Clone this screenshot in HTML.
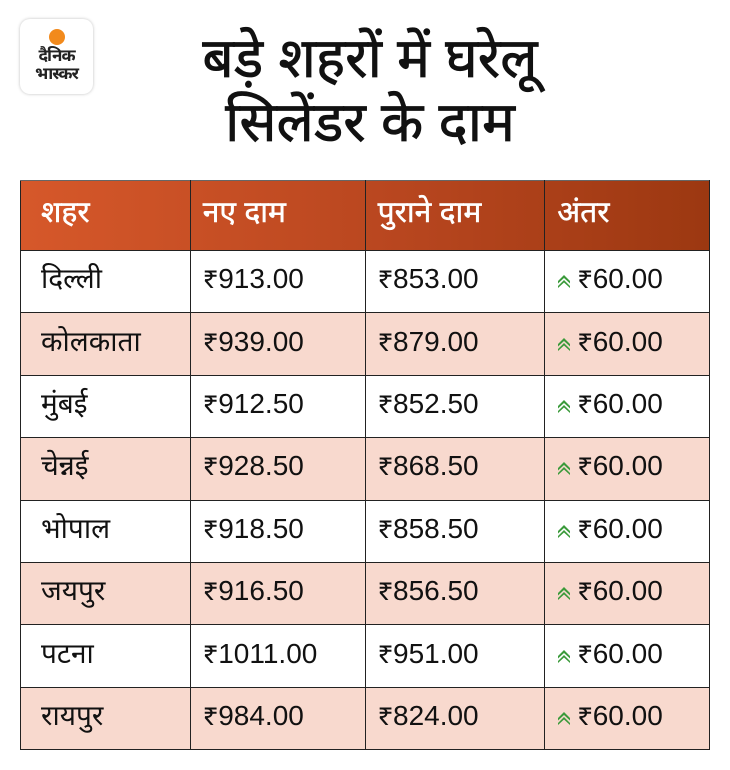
<!DOCTYPE html>
<html><head><meta charset="utf-8"><style>
body{margin:0;width:730px;height:770px;background:#fff;font-family:"Liberation Sans","Noto Sans Devanagari","Lohit Devanagari","FreeSans",sans-serif;position:relative;overflow:hidden}
.logo{position:absolute;left:20px;top:19px;width:73px;height:75px;border-radius:10px;background:#fff;box-shadow:0 0 3px rgba(0,0,0,.25);text-align:center}
.logo .dot{width:16px;height:16px;border-radius:50%;background:#f28a1c;margin:10px auto 2px}
.logo div.t{font-size:17px;font-weight:bold;line-height:18px;color:#222;letter-spacing:-1px}
h1{position:absolute;left:140px;width:460px;top:26px;margin:0;text-align:center;font-size:55px;font-weight:normal;line-height:64px;color:#111;-webkit-text-stroke:0.8px #111}
table{position:absolute;left:20px;top:180px;border-collapse:collapse;width:690px}
td,th{height:62.4px;padding:0 0 0 12px;text-align:left;font-size:28px;border:1px solid #222;color:#111;box-sizing:border-box;font-weight:normal}
td:first-child,th:first-child{padding-left:20px}
th{height:70px;color:#fff;border-top:1px solid #666;border-bottom:none;font-size:30px;-webkit-text-stroke:0.5px #fff}
thead tr{background:linear-gradient(90deg,#d6582a,#b8461f 55%,#9c3811)}
tr.p td{background:#f8d9ce}
.a{display:inline-block;width:14px;height:14px;margin-right:6px;vertical-align:0px}
</style></head><body>
<div class="logo"><div class="dot"></div><div class="t">दैनिक</div><div class="t">भास्कर</div></div>
<h1>बड़े शहरों में घरेलू<br>सिलेंडर के दाम</h1>
<svg width="0" height="0" style="position:absolute"><defs><g id="ar"><polygon points="1,7 7,1 13,7 13,9.5 7,4 1,9.5" fill="#3a9a3a"/><polygon points="1,12 7,6 13,12 13,14 7,8.5 1,14" fill="#3a9a3a"/></g></defs></svg>
<table>
<colgroup><col style="width:170px"><col style="width:175px"><col style="width:180px"><col style="width:165px"></colgroup>
<thead><tr><th>शहर</th><th>नए दाम</th><th>पुराने दाम</th><th>अंतर</th></tr></thead>
<tbody>
<tr><td>दिल्ली</td><td>₹913.00</td><td>₹853.00</td><td><svg class="a"><use href="#ar"/></svg>₹60.00</td></tr>
<tr class="p"><td>कोलकाता</td><td>₹939.00</td><td>₹879.00</td><td><svg class="a"><use href="#ar"/></svg>₹60.00</td></tr>
<tr><td>मुंबई</td><td>₹912.50</td><td>₹852.50</td><td><svg class="a"><use href="#ar"/></svg>₹60.00</td></tr>
<tr class="p"><td>चेन्नई</td><td>₹928.50</td><td>₹868.50</td><td><svg class="a"><use href="#ar"/></svg>₹60.00</td></tr>
<tr><td>भोपाल</td><td>₹918.50</td><td>₹858.50</td><td><svg class="a"><use href="#ar"/></svg>₹60.00</td></tr>
<tr class="p"><td>जयपुर</td><td>₹916.50</td><td>₹856.50</td><td><svg class="a"><use href="#ar"/></svg>₹60.00</td></tr>
<tr><td>पटना</td><td>₹1011.00</td><td>₹951.00</td><td><svg class="a"><use href="#ar"/></svg>₹60.00</td></tr>
<tr class="p"><td>रायपुर</td><td>₹984.00</td><td>₹824.00</td><td><svg class="a"><use href="#ar"/></svg>₹60.00</td></tr>
</tbody></table>
</body></html>
